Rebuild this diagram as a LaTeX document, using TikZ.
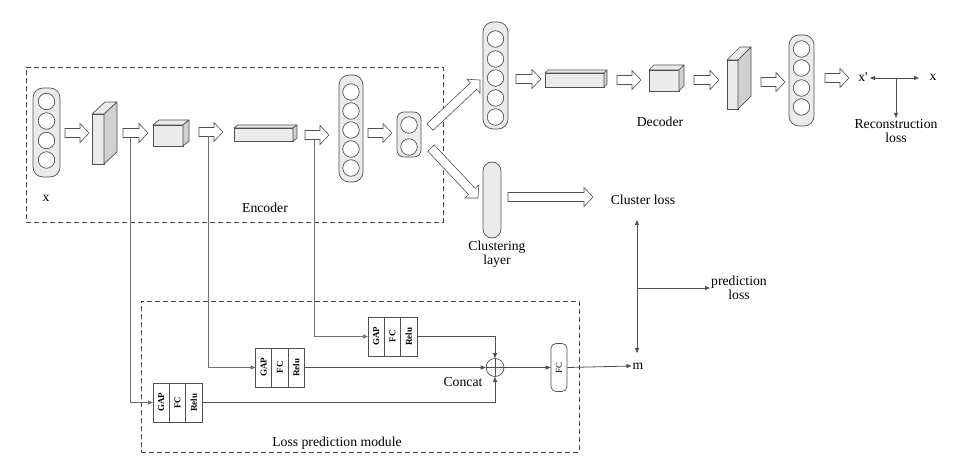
\documentclass[tikz,border=0pt]{standalone}
\usepackage{fontspec}
\setmainfont{Liberation Serif}
\usetikzlibrary{calc,arrows.meta}
\definecolor{linec}{HTML}{505050}
\definecolor{fillc}{HTML}{EBEBEB}
\definecolor{sidec}{HTML}{D0D0D0}
\definecolor{vlinec}{HTML}{707070}
\definecolor{dashc}{HTML}{444444}

\newcommand\cuboid[7]{% name, x1,y1,x2,y2,dx,dy
  \node[cubefront, minimum width={#4-#2}, minimum height={#5-#3}] (#1) at ({(#2+#4)/2},{(#3+#5)/2}) {};
  \draw[cubeface, fill=fillc] (#1.north west) -- ++(#6,-#7) -- ++({#4-#2},0) -- (#1.north east) -- cycle;
  \draw[cubeface, fill=sidec] (#1.north east) -- ++(#6,-#7) -- ++(0,{#5-#3}) -- (#1.south east) -- cycle;
}
\newcommand\harrow[2]{% hollow arrow from #1 to #2
  \coordinate (hac) at ($(#2)!9pt!(#1)$);
  \draw[harrowst] ($(#1)!4.5pt!90:(#2)$) -- ($(hac)!4.5pt!90:(#2)$) -- ($(hac)!9.5pt!90:(#2)$)
     -- (#2) -- ($(hac)!9.5pt!-90:(#2)$) -- ($(hac)!4.5pt!-90:(#2)$) -- ($(#1)!4.5pt!-90:(#2)$) -- cycle;
}
\newcommand\gapblock[3]{% name, cx, cy
  \node[gapbox] (#1) at (#2,#3) {};
  \draw[thinl] ($(#1.north west)!0.333!(#1.north east)$) -- ($(#1.south west)!0.333!(#1.south east)$);
  \draw[thinl] ($(#1.north west)!0.667!(#1.north east)$) -- ($(#1.south west)!0.667!(#1.south east)$);
  \node[gaptxt] (#1-a) at ($(#1.center)+(-16.3,0)$) {GAP};
  \node[gaptxt] (#1-b) at (#1.center) {FC};
  \node[gaptxt] (#1-c) at ($(#1.center)+(16.3,0)$) {Relu};
}

\begin{document}
\begin{tikzpicture}[x=1pt,y=-1pt,
  font=\fontsize{13.7}{15.5}\selectfont,
  col/.style={draw=linec, fill=fillc, rounded corners=10pt, inner sep=0pt, outer sep=0pt, line width=0.7pt},
  circ/.style={circle, draw=linec, fill=white, minimum size=16.5pt, inner sep=0pt, line width=0.7pt},
  cubefront/.style={draw=linec, fill=fillc, inner sep=0pt, outer sep=0pt, line width=0.7pt},
  cubeface/.style={draw=linec, line width=0.7pt, line join=round},
  harrowst/.style={draw=linec, fill=white, line width=0.6pt, line join=miter},
  dashbox/.style={draw=dashc, dash pattern=on 5pt off 3pt, line width=0.8pt, inner sep=0pt, outer sep=0pt},
  gapbox/.style={draw=linec, minimum width=49pt, minimum height=39pt, inner sep=0pt, outer sep=0pt, line width=0.7pt},
  gaptxt/.style={rotate=90, font=\fontsize{9}{10}\selectfont\bfseries, inner sep=0pt},
  thinl/.style={draw=linec, line width=0.7pt},
  vl/.style={draw=vlinec, line width=0.8pt},
  arr/.style={draw=linec, line width=0.8pt, -{Triangle[length=5pt,width=4pt]}},
  darr/.style={draw=linec, line width=0.8pt, {Triangle[length=5pt,width=4pt]}-{Triangle[length=5pt,width=4pt]}},
  lbl/.style={inner sep=1pt, align=center}
]
\useasboundingbox (0,0) rectangle (972,462);

% dashed boxes
\node[dashbox, minimum width=417pt, minimum height=155pt] (enc) at (234.5,144.5) {};
\node[dashbox, minimum width=438pt, minimum height=151pt] (lpm) at (360,376.5) {};

% input column
\node[col, minimum width=27pt, minimum height=89pt] (c1) at (46.5,132.5) {};
\foreach \y [count=\i] in {101.5,121,140.5,160} \node[circ] (c1-\i) at (46.5,\y) {};
\node[lbl] (xin) at (46,198) {x};

% encoder blocks
\cuboid{b1}{92}{114}{104}{164}{13}{12}
\cuboid{b2}{153}{125}{183}{146}{6}{5}
\cuboid{b3}{234}{128}{293}{141}{4}{3}

% encoder columns
\node[col, minimum width=24pt, minimum height=107pt] (c2) at (351,128.5) {};
\foreach \y [count=\i] in {92,111,130,149,168} \node[circ] (c2-\i) at (351,\y) {};
\node[col, rounded corners=7pt, minimum width=24pt, minimum height=45pt] (c3) at (409,134.5) {};
\foreach \y [count=\i] in {125,147} \node[circ] (c3-\i) at (409,\y) {};

\node[lbl] (enclbl) at (265,208) {Encoder};

% decoder
\node[col, minimum width=25pt, minimum height=107pt] (c4) at (495.5,75.5) {};
\foreach \y [count=\i] in {39,59,78,98,117} \node[circ] (c4-\i) at (495.5,\y) {};
\cuboid{b4}{545}{73}{604}{87}{3}{3}
\cuboid{b5}{649}{70}{679}{91}{5}{5}
\cuboid{b6}{727}{60}{738}{109}{13}{13}
\node[col, minimum width=25pt, minimum height=91pt] (c5) at (801.5,80.5) {};
\foreach \y [count=\i] in {49,68,88,107} \node[circ] (c5-\i) at (801.5,\y) {};
\node[lbl] (declbl) at (660,122) {Decoder};

\node[lbl] (xp) at (863,77) {x\textquotesingle};
\node[lbl] (xo) at (933,77) {x};
\node[lbl] (rec) at (896,131) {Reconstruction\\[-1pt]loss};

% clustering
\node[col, rounded corners=9pt, minimum width=18pt, minimum height=76pt] (cl) at (492,200) {};
\node[lbl] (cllbl) at (497,254) {Clustering\\[-1pt]layer};
\node[lbl] (clloss) at (643,200) {Cluster loss};
\node[lbl] (ploss) at (739,288) {prediction\\[-1pt]loss};
\node[lbl] (m) at (638,366) {m};

% hollow arrow endpoints
\coordinate (h1s) at (65,133);   \coordinate (h1e) at (89,133);
\coordinate (h2s) at (123,133);  \coordinate (h2e) at (148,133);
\coordinate (h3s) at (199,132);  \coordinate (h3e) at (223,132);
\coordinate (h4s) at (305,135);  \coordinate (h4e) at (329,135);
\coordinate (h5s) at (368,133);  \coordinate (h5e) at (392,133);
\coordinate (hu1s) at (430,127); \coordinate (hu1e) at (480,80);
\coordinate (hd1s) at (431,148); \coordinate (hd1e) at (478,198);
\coordinate (h6s) at (516,79);   \coordinate (h6e) at (541,79);
\coordinate (h7s) at (617,80);   \coordinate (h7e) at (641,80);
\coordinate (h8s) at (694,80);   \coordinate (h8e) at (719,80);
\coordinate (h9s) at (761,82);   \coordinate (h9e) at (785,82);
\coordinate (h10s) at (825,78);  \coordinate (h10e) at (849,78);
\coordinate (hcs) at (508,197);  \coordinate (hce) at (593,197);
\harrow{h1s}{h1e}
\harrow{h2s}{h2e}
\harrow{h3s}{h3e}
\harrow{h4s}{h4e}
\harrow{h5s}{h5e}
\harrow{hu1s}{hu1e}
\harrow{hd1s}{hd1e}
\harrow{h6s}{h6e}
\harrow{h7s}{h7e}
\harrow{h8s}{h8e}
\harrow{h9s}{h9e}
\harrow{h10s}{h10e}
\harrow{hcs}{hce}

% reconstruction loss arrows
\coordinate (xl) at (870,78);
\coordinate (xr) at (919,78);
\coordinate (xj) at (896,78);
\draw[darr] (xl) -- (xr);
\draw[arr] (xj) -- (rec.north);

% loss prediction module
\gapblock{g1}{177.5}{402.5}
\gapblock{g2}{280}{367.5}
\gapblock{g3}{392.5}{336.5}
\node[circle, draw=linec, line width=0.7pt, minimum size=18pt, inner sep=0pt] (cc) at (495,367.5) {};
\draw[thinl] (cc.north) -- (cc.south) (cc.west) -- (cc.east);
\node[lbl] (cclbl) at (463,382) {Concat};
\node[draw=linec, line width=0.7pt, rounded corners=5pt, minimum width=16pt, minimum height=48pt, inner sep=0pt] (fc) at (559,367.5) {};
\node[gaptxt, font=\fontsize{9}{10}\selectfont] (fctxt) at (fc.center) {FC};
\node[lbl] (lpmlbl) at (337,443) {Loss prediction module};

\coordinate (v1) at (130,137);
\coordinate (v2) at (208,136);
\coordinate (v3) at (314,139);
\draw[vl, -{Triangle[length=5pt,width=4pt]}] (v1) |- (g1.west);
\draw[vl, -{Triangle[length=5pt,width=4pt]}] (v2) |- (g2.west);
\draw[vl, -{Triangle[length=5pt,width=4pt]}] (v3) |- (g3.west);
\draw[arr] (g3.east) -| (cc.north);
\draw[arr] (g2.east) -- (cc.west);
\draw[arr] (g1.east) -| (cc.south);
\draw[arr] (cc.east) -- (fc.west);
\draw[arr] (fc.east) -- (m.west);

% loss arrows
\coordinate (lt) at (637,220);
\coordinate (lb) at (637,353);
\coordinate (lj) at (637,288);
\draw[darr] (lt) -- (lb);
\draw[arr] (lj) -- (ploss.west);
\end{tikzpicture}
\end{document}
